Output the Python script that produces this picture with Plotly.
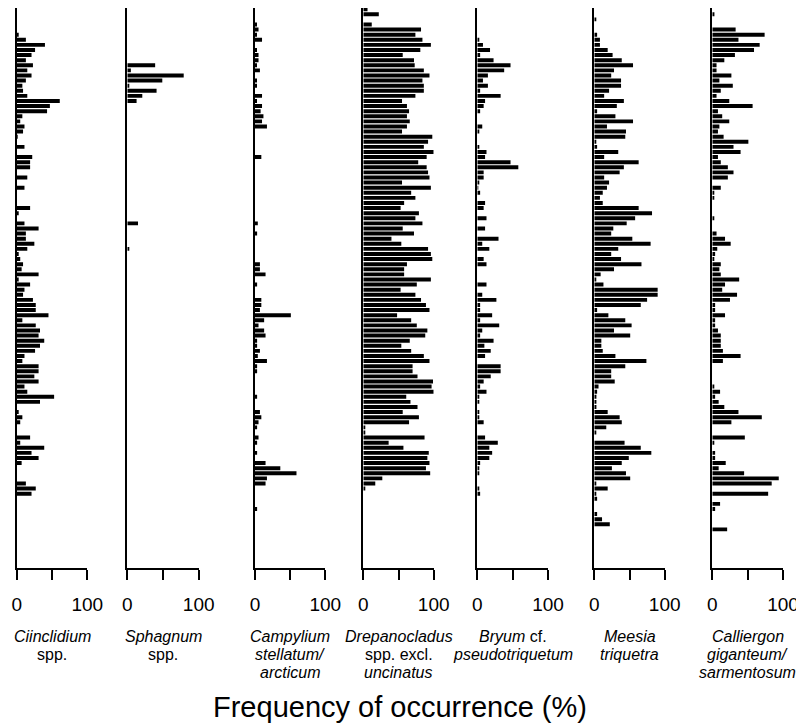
import plotly.graph_objects as go
from plotly.subplots import make_subplots

# sample (row) index, top to bottom
samples = list(range(111))

ciinclidium = [
    0, 0, 0, 0, 0, 0, 2, 13, 40, 26,
    21, 13, 23, 15, 21, 13, 8, 9, 15, 61,
    47, 43, 8, 5, 11, 9, 1, 0, 11, 0,
    22, 19, 19, 0, 15, 0, 11, 0, 0, 0,
    19, 2, 0, 11, 31, 13, 13, 25, 15, 2,
    5, 9, 7, 31, 2, 19, 11, 9, 23, 27,
    27, 45, 8, 27, 33, 31, 39, 33, 26, 11,
    8, 31, 31, 25, 31, 11, 15, 53, 33, 0,
    2, 8, 5, 0, 0, 19, 5, 39, 21, 31,
    7, 0, 0, 0, 13, 27, 21, 0, 0, 0,
    0, 0, 0, 0, 0, 0, 0, 0, 0, 0, 0]

sphagnum = [
    0, 0, 0, 0, 0, 0, 0, 0, 0, 0,
    0, 0, 39, 5, 79, 49, 2, 41, 21, 13,
    0, 0, 0, 0, 0, 0, 0, 0, 0, 0,
    0, 0, 0, 0, 0, 0, 0, 0, 0, 0,
    0, 0, 0, 15, 0, 0, 0, 0, 2, 0,
    0, 0, 0, 0, 0, 0, 0, 0, 0, 0,
    0, 0, 0, 0, 0, 0, 0, 0, 0, 0,
    0, 0, 0, 0, 0, 0, 0, 0, 0, 0,
    0, 0, 0, 0, 0, 0, 0, 0, 0, 0,
    0, 0, 0, 0, 0, 0, 0, 0, 0, 0,
    0, 0, 0, 0, 0, 0, 0, 0, 0, 0, 0]

campylium = [
    0, 0, 0, 0, 2, 5, 2, 10, 0, 2,
    5, 5, 2, 7, 0, 2, 2, 0, 10, 2,
    10, 8, 12, 10, 17, 0, 0, 0, 0, 0,
    9, 0, 0, 0, 0, 0, 0, 0, 0, 0,
    0, 0, 0, 4, 0, 3, 0, 0, 0, 0,
    0, 7, 7, 15, 0, 3, 0, 0, 9, 9,
    7, 51, 13, 5, 13, 15, 3, 3, 7, 4,
    17, 3, 3, 0, 0, 0, 0, 3, 0, 0,
    7, 9, 5, 3, 0, 5, 3, 0, 3, 0,
    15, 36, 59, 17, 15, 0, 0, 0, 0, 3,
    0, 0, 0, 0, 0, 0, 0, 0, 0, 0, 0]

drepanocladus = [
    0, 6, 22, 0, 12, 82, 74, 84, 96, 81,
    56, 72, 73, 86, 94, 84, 86, 86, 74, 55,
    62, 65, 62, 66, 62, 55, 98, 92, 86, 100,
    90, 78, 90, 92, 94, 55, 96, 68, 74, 58,
    53, 79, 74, 84, 56, 72, 40, 54, 92, 96,
    98, 62, 58, 58, 96, 76, 53, 74, 82, 89,
    94, 48, 68, 76, 91, 88, 66, 54, 68, 86,
    94, 70, 70, 77, 99, 97, 100, 61, 67, 77,
    56, 79, 65, 2, 2, 87, 36, 57, 93, 91,
    94, 89, 95, 27, 17, 2, 0, 0, 0, 0,
    0, 0, 0, 0, 0, 0, 0, 0, 0, 0, 0]

bryum = [
    0, 0, 0, 0, 0, 0, 0, 2, 8, 18,
    4, 23, 47, 38, 15, 8, 15, 4, 33, 11,
    9, 4, 0, 0, 7, 2, 0, 0, 2, 13,
    11, 47, 58, 9, 9, 2, 1, 4, 0, 11,
    9, 0, 13, 0, 11, 0, 30, 7, 17, 0,
    9, 13, 0, 0, 0, 13, 0, 7, 27, 4,
    4, 21, 4, 31, 7, 4, 23, 10, 19, 11,
    0, 33, 33, 19, 9, 4, 13, 2, 2, 0,
    2, 2, 9, 0, 0, 11, 29, 17, 21, 17,
    4, 2, 2, 0, 0, 2, 4, 0, 0, 0,
    0, 0, 0, 0, 0, 0, 0, 0, 0, 0, 0]

meesia = [
    0, 0, 0, 2, 0, 0, 4, 8, 8, 19,
    26, 39, 55, 28, 24, 38, 38, 21, 14, 42,
    32, 4, 30, 55, 18, 45, 44, 2, 4, 34,
    14, 63, 42, 36, 14, 21, 18, 12, 8, 12,
    63, 82, 58, 46, 27, 24, 54, 80, 34, 24,
    38, 67, 28, 9, 2, 13, 90, 90, 75, 66,
    4, 20, 44, 53, 28, 51, 10, 10, 12, 30,
    74, 44, 24, 24, 29, 6, 4, 3, 3, 3,
    19, 36, 39, 17, 2, 0, 43, 66, 81, 49,
    39, 25, 45, 51, 2, 19, 2, 4, 0, 0,
    4, 11, 22, 0, 0, 0, 0, 0, 0, 0, 0]

calliergon = [
    0, 0, 3, 0, 0, 33, 74, 37, 67, 59,
    32, 17, 6, 6, 27, 10, 29, 12, 6, 24,
    57, 8, 14, 24, 10, 8, 16, 51, 30, 40,
    8, 12, 22, 30, 22, 0, 12, 2, 2, 0,
    0, 0, 2, 0, 0, 6, 18, 26, 7, 4,
    2, 12, 10, 12, 38, 18, 14, 35, 25, 4,
    4, 18, 4, 4, 8, 12, 12, 12, 15, 40,
    15, 0, 0, 0, 0, 2, 11, 4, 9, 17,
    37, 70, 27, 0, 0, 46, 2, 0, 4, 4,
    19, 9, 45, 94, 84, 0, 79, 0, 11, 4,
    0, 0, 0, 21, 0, 0, 0, 0, 0, 0, 0]

series = [ciinclidium, sphagnum, campylium, drepanocladus, bryum, meesia, calliergon]

labels = [
    ["<i>Ciinclidium</i>", "spp."],
    ["<i>Sphagnum</i>", "spp."],
    ["<i>Campylium</i>", "<i>stellatum/</i>", "<i>arcticum</i>"],
    ["<i>Drepanocladus</i>", "spp. excl.", "<i>uncinatus</i>"],
    ["<i>Bryum</i> cf.", "<i>pseudotriquetum</i>"],
    ["<i>Meesia</i>", "<i>triquetra</i>"],
    ["<i>Calliergon</i>", "<i>giganteum/</i>", "<i>sarmentosum</i>"],
]

x_ticks = [0, 50, 100]
x_ticktext = ["0", "", "100"]

# page has an 8px body margin: figure is drawn at (8, 8)
OFF = 8
W, H = 796, 717
# page-pixel extents of each panel's 0..100 axis
panel_px = [(16.7, 87.3), (127.3, 198.7), (255.0, 325.3), (363.3, 433.7),
            (477.3, 548.0), (594.3, 664.7), (712.3, 783.0)]
top_px, bottom_px = 7.0, 568.0
FONT = "Liberation Sans, Arial, Helvetica, sans-serif"


def fx(px):
    return (px - OFF) / W


def fy(py):
    return 1 - (py - OFF) / H


fig = make_subplots(rows=1, cols=7, horizontal_spacing=0.01)

for i, vals in enumerate(series):
    fig.add_trace(go.Bar(x=vals, y=samples, orientation="h",
                         marker=dict(color="black", line=dict(width=0)),
                         width=0.78, showlegend=False, hoverinfo="x+y"),
                  row=1, col=i + 1)

ydom = [fy(bottom_px), min(1.0, fy(top_px + 1))]
yr = [bottom_px / 5.1 - 0.8, (top_px + 1) / 5.1 - 0.8]

for i in range(7):
    x0, x1 = panel_px[i]
    sfx = "" if i == 0 else str(i + 1)
    fig.layout["xaxis" + sfx].update(
        domain=[fx(x0), fx(x1)], range=[0, 100], showgrid=False, zeroline=False,
        showline=True, linecolor="black", linewidth=1.5,
        ticks="outside", ticklen=10, tickwidth=1.5, tickcolor="black",
        tickvals=x_ticks, ticktext=x_ticktext,
        tickfont=dict(family=FONT, size=19, color="black"),
        ticklabelstandoff=8, automargin=False, fixedrange=True)
    fig.layout["yaxis" + sfx].update(
        domain=ydom, range=yr, showgrid=False, zeroline=False,
        showline=True, linecolor="black", linewidth=1.5,
        ticks="", showticklabels=False, automargin=False, fixedrange=True)
    cx = fx((x0 + x1) / 2)
    for j, line in enumerate(labels[i]):
        fig.add_annotation(x=cx, y=fy(636 + 18 * j), xref="paper", yref="paper",
                           text=line, showarrow=False, xanchor="center", yanchor="middle",
                           font=dict(family=FONT, size=16, color="black"))

fig.add_annotation(x=fx(400), y=fy(707), xref="paper", yref="paper",
                   text="Frequency of occurrence (%)", showarrow=False,
                   xanchor="center", yanchor="middle",
                   font=dict(family=FONT, size=29, color="black"))

fig.update_layout(width=W, height=H, margin=dict(l=0, r=0, t=0, b=0, autoexpand=False),
                  plot_bgcolor="white", paper_bgcolor="white", bargap=0.3)

fig.write_html("out.html")
